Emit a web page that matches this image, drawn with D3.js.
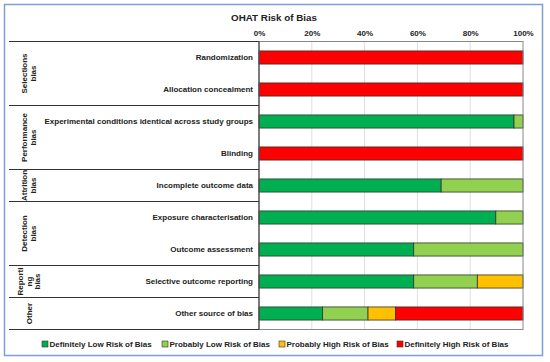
<!DOCTYPE html>
<html>
<head>
<meta charset="utf-8">
<script src="https://cdn.jsdelivr.net/npm/d3@7"></script>
<style>
  body { margin: 0; background: #fff; }
  text { font-family: Arial, "Liberation Sans", sans-serif; font-weight: bold; fill: #222; }
</style>
</head>
<body>
<svg id="chart" width="550" height="362"></svg>
<script>
// categories (top to bottom) and the group each one belongs to
const categories = [
    "Randomization",
    "Allocation concealment",
    "Experimental conditions identical across study groups",
    "Blinding",
    "Incomplete outcome data",
    "Exposure characterisation",
    "Outcome assessment",
    "Selective outcome reporting",
    "Other source of bias"
];
const groups = [
    {lines: ["Selections", "bias"], first: 0, last: 1},
    {lines: ["Performance", "bias"], first: 2, last: 3},
    {lines: ["Attrition", "bias"], first: 4, last: 4},
    {lines: ["Detection", "bias"], first: 5, last: 6},
    {lines: ["Reporti", "ng", "bias"], first: 7, last: 7},
    {lines: ["Other"], first: 8, last: 8}
];

// series values, percent of studies
const seriesNames = ["Definitely Low Risk of Bias", "Probably Low Risk of Bias",
    "Probably High Risk of Bias", "Definitely High Risk of Bias"];
const defLow   = [0, 0, 96.6, 0, 69.0, 89.7, 58.6, 58.6, 24.1];
const probLow  = [0, 0, 3.4, 0, 31.0, 10.3, 41.4, 24.1, 17.2];
const probHigh = [0, 0, 0, 0, 0, 0, 0, 17.3, 10.4];
const defHigh  = [100, 100, 0, 100, 0, 0, 0, 0, 48.3];
const tickValues = [0, 20, 40, 60, 80, 100];

const colors = ["#00B050", "#92D050", "#FFC000", "#FF0000"];

const svg = d3.select("#chart");

// outer frame
svg.append("rect")
    .attr("x", 4.5).attr("y", 4.5)
    .attr("width", 538).attr("height", 351)
    .attr("fill", "#fff")
    .attr("stroke", "#7f9fd8")
    .attr("stroke-width", 1.5);

const plotL = 259, plotR = 523, plotT = 41.5, plotB = 329.5;

const x = d3.scaleLinear().domain([0, 100]).range([plotL, plotR]);
const y = d3.scaleBand().domain(categories).range([plotT, plotB]).paddingInner(0.59).paddingOuter(0.295);

// title
svg.append("text")
    .attr("x", 274).attr("y", 20.5)
    .attr("text-anchor", "middle")
    .attr("font-size", 9.8)
    .text("OHAT Risk of Bias");

// gridlines
svg.append("g")
    .selectAll("line")
    .data(tickValues.slice(1, -1))
    .join("line")
    .attr("x1", d => x(d)).attr("x2", d => x(d))
    .attr("y1", plotT).attr("y2", plotB)
    .attr("stroke", "#dedede");

// top axis labels
const xAxis = d3.axisTop(x).tickValues(tickValues).tickFormat(d => d + "%").tickSize(0).tickPadding(0);
svg.append("g")
    .attr("transform", `translate(0, ${plotT - 6})`)
    .call(xAxis)
    .call(g => g.select(".domain").remove())
    .selectAll("text")
    .attr("font-size", 8)
    .attr("font-family", "Arial, 'Liberation Sans', sans-serif")
    .attr("font-weight", "bold")
    .attr("fill", "#222");

// stacked bars
const table = categories.map((c, i) => ({
    cat: c, s0: defLow[i], s1: probLow[i], s2: probHigh[i], s3: defHigh[i]
}));
const stacked = d3.stack().keys(["s0", "s1", "s2", "s3"])(table);

svg.append("g")
    .selectAll("g")
    .data(stacked)
    .join("g")
    .attr("fill", (d, i) => colors[i])
    .selectAll("rect")
    .data(d => d.filter(p => p[1] - p[0] > 0))
    .join("rect")
    .attr("x", d => x(d[0]))
    .attr("width", d => x(d[1]) - x(d[0]))
    .attr("y", d => y(d.data.cat))
    .attr("height", y.bandwidth())
    .attr("stroke", "#333")
    .attr("stroke-width", 0.8);

// plot border
svg.append("rect")
    .attr("x", plotL).attr("y", plotT)
    .attr("width", plotR - plotL).attr("height", plotB - plotT)
    .attr("fill", "none")
    .attr("stroke", "#888");
svg.append("line")
    .attr("x1", plotL).attr("x2", plotL)
    .attr("y1", plotT).attr("y2", plotB)
    .attr("stroke", "#333");

// category labels
svg.append("g")
    .selectAll("text")
    .data(categories)
    .join("text")
    .attr("x", plotL - 6)
    .attr("y", d => y(d) + y.bandwidth() / 2)
    .attr("dy", "0.35em")
    .attr("text-anchor", "end")
    .attr("font-size", 8)
    .text(d => d);

// group separators
const step = y.step();
const seps = [0].concat(groups.map(g => g.last + 1));
svg.append("g")
    .selectAll("line")
    .data(seps)
    .join("line")
    .attr("x1", 9).attr("x2", plotL)
    .attr("y1", d => plotT + d * step).attr("y2", d => plotT + d * step)
    .attr("stroke", "#333")
    .attr("stroke-width", 1);

// group labels, rotated
const gl = svg.append("g")
    .selectAll("text")
    .data(groups)
    .join("text")
    .attr("font-size", 8)
    .attr("text-anchor", "middle")
    .attr("transform", g => {
        const cy = plotT + (g.first + g.last + 1) / 2 * step;
        const cx = 29 - (g.lines.length - 1) * 4.5;
        return `translate(${cx}, ${cy}) rotate(-90)`;
    });
gl.selectAll("tspan")
    .data(g => g.lines)
    .join("tspan")
    .attr("x", 0)
    .attr("dy", (d, i) => i === 0 ? "0.35em" : "1.1em")
    .text(d => d);

// legend
const legendX = [42, 162, 279, 397];
const lg = svg.append("g")
    .selectAll("g")
    .data(seriesNames)
    .join("g")
    .attr("transform", (d, i) => `translate(${legendX[i]}, 344)`);
lg.append("rect")
    .attr("x", 0).attr("y", -3)
    .attr("width", 6).attr("height", 6)
    .attr("fill", (d, i) => colors[i])
    .attr("stroke", "#333")
    .attr("stroke-width", 0.6);
lg.append("text")
    .attr("x", 7.5).attr("dy", "0.35em")
    .attr("font-size", 8)
    .text(d => d);
</script>
</body>
</html>
